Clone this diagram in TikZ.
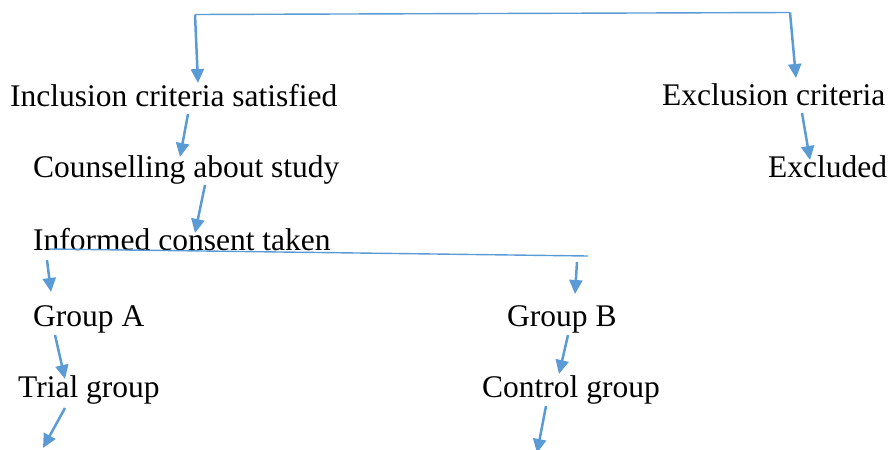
\documentclass[tikz,border=0pt]{standalone}
\usepackage{fontspec}
\setmainfont{LiberationSerif}[Extension=.ttf, UprightFont=*-Regular, BoldFont=*-Bold]
\usetikzlibrary{arrows.meta,positioning}
\definecolor{flowblue}{HTML}{5B9BD5}

\begin{document}
\begin{tikzpicture}[x=1pt, y=-1pt,
    step label/.style={anchor=base west, inner sep=0pt, font=\fontsize{31.5}{36}\selectfont},
    flow line/.style={draw=flowblue, line width=1.4pt},
    flow arrow/.style={draw=flowblue, line width=2.5pt, -{Triangle[length=14pt, width=13pt]}}
]
\useasboundingbox (0,0) rectangle (892,450);

% Screening branch (top)
\node[step label] (incl) at (10,106) {Inclusion criteria satisfied};
\node[step label] (excl) at (662,105) {Exclusion criteria};
\coordinate (tl) at (195,14.5);
\coordinate (tr) at (790,12.5);
\draw[flow line] (tl) -- (tr);
\draw[flow arrow] (tl) -- ([shift={(188,-23)}]incl.base west);
\draw[flow arrow] (tr) -- ([shift={(134,-27)}]excl.base west);

% Left column down to consent
\node[step label] (couns) at (33,177) {Counselling about study};
\node[step label] (consent) at (33,250) {Informed consent taken};
\node[step label] (excluded) at (768,177) {Excluded};
\draw[flow arrow] ([shift={(178,8)}]incl.base west) -- ([shift={(147,-20)}]couns.base west);
\draw[flow arrow] ([shift={(140,8)}]excl.base west) -- ([shift={(42,-17)}]excluded.base west);
\draw[flow arrow] ([shift={(172,8)}]couns.base west) -- ([shift={(162,-17)}]consent.base west);

% Randomisation
\node[step label] (grpA) at (33,326) {Group A};
\node[step label] (grpB) at (507,326) {Group B};
\coordinate (cl) at (49,249);
\coordinate (cr) at (588,256);
\draw[flow line] (cl) -- (cr);
\coordinate (a0) at (47,260);
\coordinate (b0) at (577,262);
\draw[flow arrow] (a0) -- ([shift={(18,-34)}]grpA.base west);
\draw[flow arrow] (b0) -- ([shift={(68,-32)}]grpB.base west);

% Groups
\node[step label] (trial) at (18,397) {Trial group};
\node[step label] (control) at (482,397) {Control group};
\draw[flow arrow] ([shift={(22,9)}]grpA.base west) -- ([shift={(47,-18)}]trial.base west);
\draw[flow arrow] ([shift={(61,9)}]grpB.base west) -- ([shift={(77,-23)}]control.base west);
\coordinate (te) at (43,448);
\coordinate (ce) at (537,453);
\draw[flow arrow] ([shift={(47,11)}]trial.base west) -- (te);
\draw[flow arrow] ([shift={(64,9)}]control.base west) -- (ce);

\end{tikzpicture}
\end{document}
